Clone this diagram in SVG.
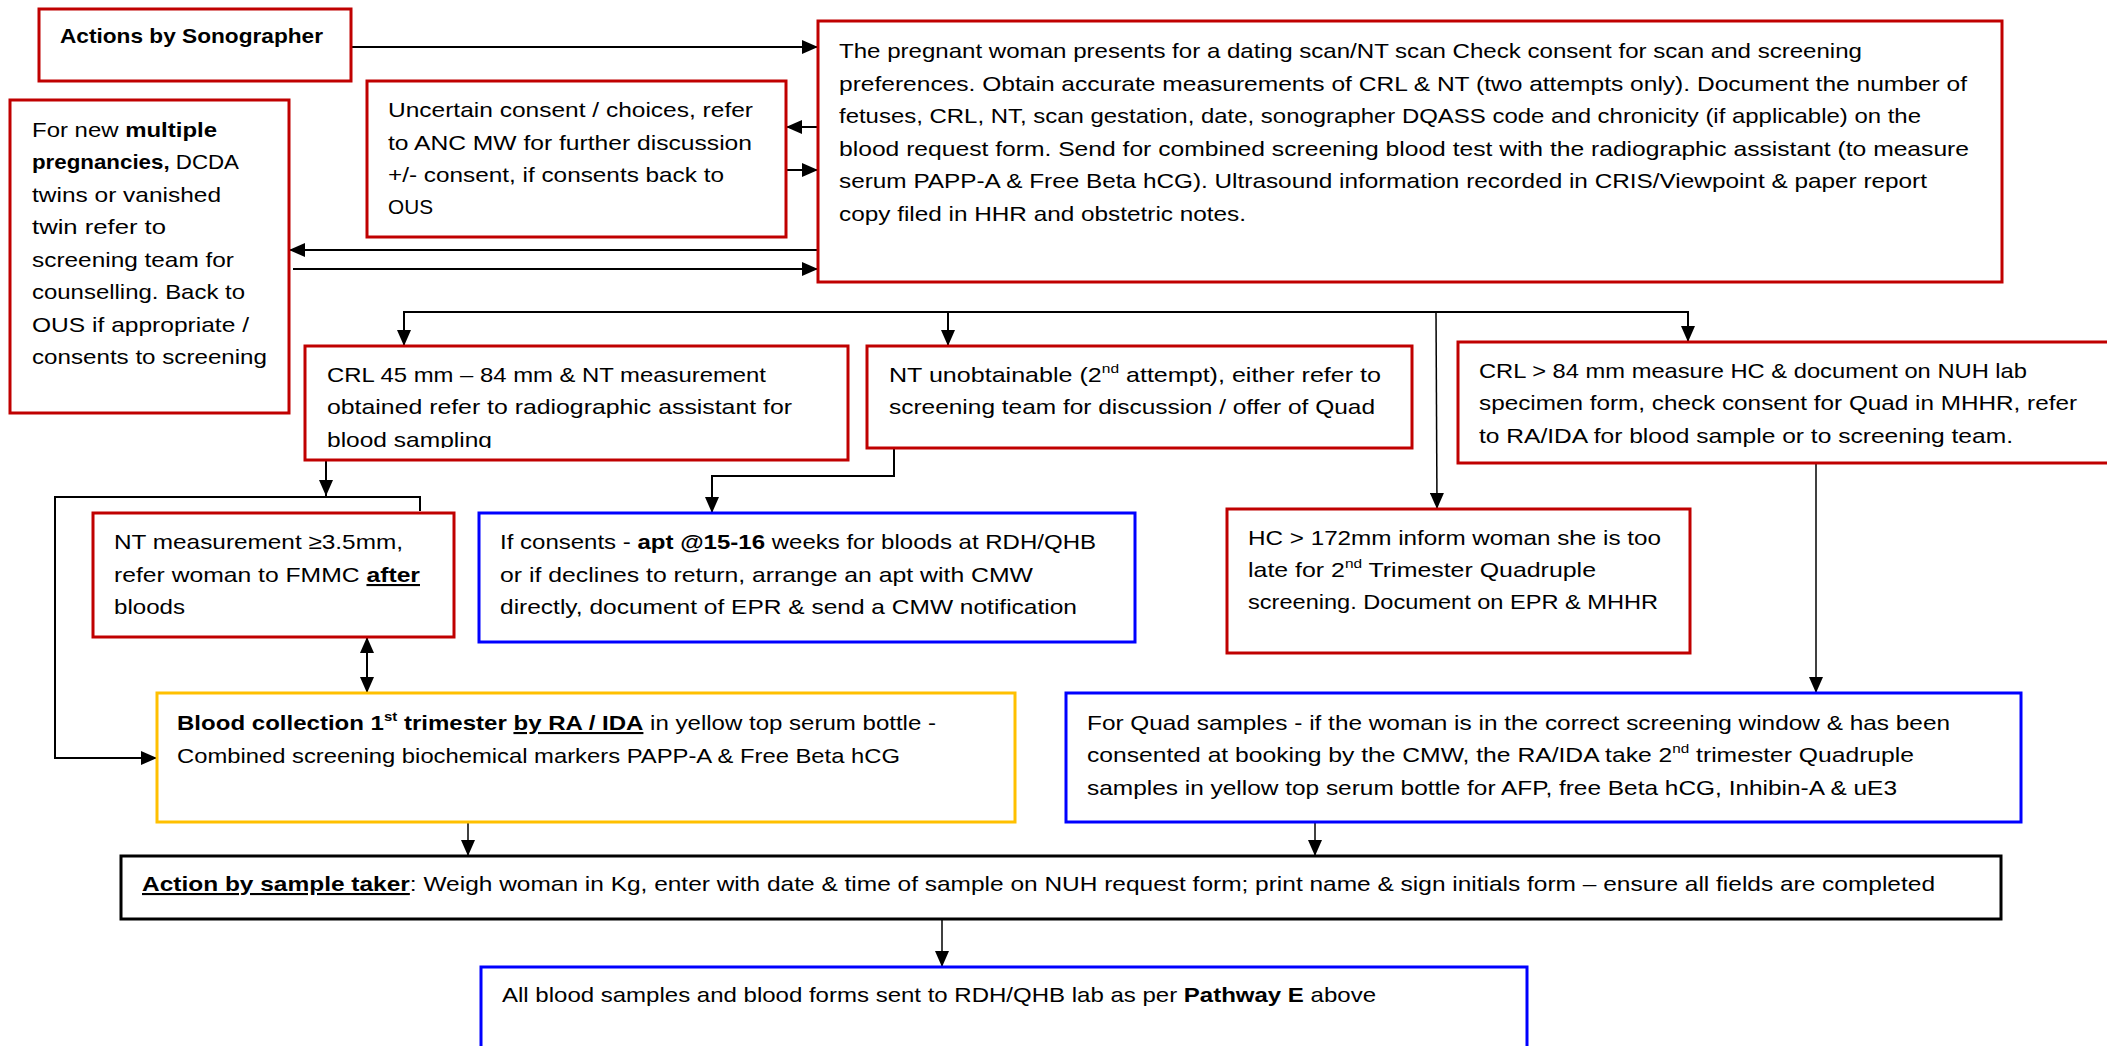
<svg xmlns="http://www.w3.org/2000/svg" width="2107" height="1046" viewBox="0 0 2107 1046">
<style>
.t{font-family:"Liberation Sans",Arial,sans-serif;font-size:21px;fill:#000}
.b{font-weight:bold}
.u{text-decoration:underline}
.sup{font-size:13px}
.red{fill:#fff;stroke:#C00000;stroke-width:3}
.blue{fill:#fff;stroke:#0000FF;stroke-width:3}
.yel{fill:#fff;stroke:#FFC000;stroke-width:3}
.blk{fill:#fff;stroke:#000;stroke-width:3}
.c{fill:none;stroke:#000;stroke-width:2}
.ct{fill:none;stroke:#000;stroke-width:1.5}
</style>
<defs>
<marker id="ah" markerUnits="userSpaceOnUse" markerWidth="16" markerHeight="14" refX="16" refY="7" orient="auto">
<path d="M0,0 L16,7 L0,14 z" fill="#000"/>
</marker>
<marker id="as" markerUnits="userSpaceOnUse" markerWidth="16" markerHeight="14" refX="0" refY="7" orient="auto">
<path d="M16,0 L0,7 L16,14 z" fill="#000"/>
</marker>
<clipPath id="crlclip"><rect x="305" y="346" width="543" height="102"/></clipPath>
</defs>

<g id="connectors">
<line class="c" x1="351" y1="47" x2="818" y2="47" marker-end="url(#ah)"/>
<line class="c" x1="818" y1="127" x2="786" y2="127" marker-end="url(#ah)"/>
<line class="c" x1="786" y1="170" x2="818" y2="170" marker-end="url(#ah)"/>
<line class="c" x1="818" y1="250" x2="289" y2="250" marker-end="url(#ah)"/>
<line class="c" x1="293" y1="269" x2="818" y2="269" marker-end="url(#ah)"/>
<line class="c" x1="403" y1="312" x2="1689" y2="312"/>
<line class="c" x1="404" y1="312" x2="404" y2="346" marker-end="url(#ah)"/>
<line class="c" x1="948" y1="312" x2="948" y2="346" marker-end="url(#ah)"/>
<line class="c" x1="1688" y1="312" x2="1688" y2="342" marker-end="url(#ah)"/>
<line class="ct" x1="1436" y1="312" x2="1437" y2="509" marker-end="url(#ah)"/>
<line class="c" x1="326" y1="460" x2="326" y2="496" marker-end="url(#ah)"/>
<polyline class="c" points="420,511 420,497 55,497 55,758 157,758" marker-end="url(#ah)"/>
<polyline class="c" points="894,448 894,476 712,476 712,513" marker-end="url(#ah)"/>
<line class="c" x1="367" y1="637" x2="367" y2="693" marker-start="url(#as)" marker-end="url(#ah)"/>
<line class="ct" x1="1816" y1="463" x2="1816" y2="693" marker-end="url(#ah)"/>
<line class="ct" x1="468" y1="822" x2="468" y2="856" marker-end="url(#ah)"/>
<line class="ct" x1="1315" y1="822" x2="1315" y2="856" marker-end="url(#ah)"/>
<line class="ct" x1="942" y1="919" x2="942" y2="967" marker-end="url(#ah)"/>
</g>

<g id="n-actions">
<rect class="red" x="39" y="9" width="312" height="72"/>
<text class="t b" x="60" y="43" textLength="263" lengthAdjust="spacingAndGlyphs">Actions by Sonographer</text>
</g>

<g id="n-main">
<rect class="red" x="818" y="21" width="1184" height="261"/>
<text class="t" x="839" y="58" textLength="1023" lengthAdjust="spacingAndGlyphs">The pregnant woman presents for a dating scan/NT scan Check consent for scan and screening</text>
<text class="t" x="839" y="91" textLength="1128" lengthAdjust="spacingAndGlyphs">preferences. Obtain accurate measurements of CRL &amp; NT (two attempts only). Document the number of</text>
<text class="t" x="839" y="123" textLength="1082" lengthAdjust="spacingAndGlyphs">fetuses, CRL, NT, scan gestation, date, sonographer DQASS code and chronicity (if applicable) on the</text>
<text class="t" x="839" y="156" textLength="1130" lengthAdjust="spacingAndGlyphs">blood request form. Send for combined screening blood test with the radiographic assistant (to measure</text>
<text class="t" x="839" y="188" textLength="1088" lengthAdjust="spacingAndGlyphs">serum PAPP-A &amp; Free Beta hCG). Ultrasound information recorded in CRIS/Viewpoint &amp; paper report</text>
<text class="t" x="839" y="221" textLength="407" lengthAdjust="spacingAndGlyphs">copy filed in HHR and obstetric notes.</text>
</g>

<g id="n-uncertain">
<rect class="red" x="367" y="81" width="419" height="156"/>
<text class="t" x="388" y="117" textLength="365" lengthAdjust="spacingAndGlyphs">Uncertain consent / choices, refer</text>
<text class="t" x="388" y="150" textLength="364" lengthAdjust="spacingAndGlyphs">to ANC MW for further discussion</text>
<text class="t" x="388" y="182" textLength="336" lengthAdjust="spacingAndGlyphs">+/- consent, if consents back to</text>
<text class="t" x="388" y="214" textLength="45" lengthAdjust="spacingAndGlyphs">OUS</text>
</g>

<g id="n-multiple">
<rect class="red" x="10" y="100" width="279" height="313"/>
<text class="t" x="32" y="137" textLength="185" lengthAdjust="spacingAndGlyphs">For new <tspan class="b">multiple</tspan></text>
<text class="t" x="32" y="169" textLength="207" lengthAdjust="spacingAndGlyphs"><tspan class="b">pregnancies,</tspan> DCDA</text>
<text class="t" x="32" y="202" textLength="189" lengthAdjust="spacingAndGlyphs">twins or vanished</text>
<text class="t" x="32" y="234" textLength="134" lengthAdjust="spacingAndGlyphs">twin refer to</text>
<text class="t" x="32" y="267" textLength="202" lengthAdjust="spacingAndGlyphs">screening team for</text>
<text class="t" x="32" y="299" textLength="213" lengthAdjust="spacingAndGlyphs">counselling. Back to</text>
<text class="t" x="32" y="332" textLength="217" lengthAdjust="spacingAndGlyphs">OUS if appropriate /</text>
<text class="t" x="32" y="364" textLength="235" lengthAdjust="spacingAndGlyphs">consents to screening</text>
</g>

<g id="n-crl">
<rect class="red" x="305" y="346" width="543" height="114"/>
<g clip-path="url(#crlclip)">
<text class="t" x="327" y="382" textLength="439" lengthAdjust="spacingAndGlyphs">CRL 45 mm – 84 mm &amp; NT measurement</text>
<text class="t" x="327" y="414" textLength="465" lengthAdjust="spacingAndGlyphs">obtained refer to radiographic assistant for</text>
<text class="t" x="327" y="447" textLength="165" lengthAdjust="spacingAndGlyphs">blood sampling</text>
</g>
</g>

<g id="n-ntunobt">
<rect class="red" x="867" y="346" width="545" height="102"/>
<text class="t" x="889" y="382" textLength="492" lengthAdjust="spacingAndGlyphs">NT unobtainable (2<tspan class="sup" dy="-9">nd</tspan><tspan dy="9"> attempt), either refer to</tspan></text>
<text class="t" x="889" y="414" textLength="486" lengthAdjust="spacingAndGlyphs">screening team for discussion / offer of Quad</text>
</g>

<g id="n-crl84">
<rect class="red" x="1458" y="342" width="700" height="121"/>
<text class="t" x="1479" y="378" textLength="548" lengthAdjust="spacingAndGlyphs">CRL &gt; 84 mm measure HC &amp; document on NUH lab</text>
<text class="t" x="1479" y="410" textLength="598" lengthAdjust="spacingAndGlyphs">specimen form, check consent for Quad in MHHR, refer</text>
<text class="t" x="1479" y="443" textLength="534" lengthAdjust="spacingAndGlyphs">to RA/IDA for blood sample or to screening team.</text>
</g>

<g id="n-hc">
<rect class="red" x="1227" y="509" width="463" height="144"/>
<text class="t" x="1248" y="545" textLength="413" lengthAdjust="spacingAndGlyphs">HC &gt; 172mm inform woman she is too</text>
<text class="t" x="1248" y="577" textLength="348" lengthAdjust="spacingAndGlyphs">late for 2<tspan class="sup" dy="-9">nd</tspan><tspan dy="9"> Trimester Quadruple</tspan></text>
<text class="t" x="1248" y="609" textLength="410" lengthAdjust="spacingAndGlyphs">screening. Document on EPR &amp; MHHR</text>
</g>

<g id="n-ntmeas">
<rect class="red" x="93" y="513" width="361" height="124"/>
<text class="t" x="114" y="549" textLength="289" lengthAdjust="spacingAndGlyphs">NT measurement ≥3.5mm,</text>
<text class="t" x="114" y="582" textLength="306" lengthAdjust="spacingAndGlyphs">refer woman to FMMC <tspan class="b u">after</tspan></text>
<text class="t" x="114" y="614" textLength="71" lengthAdjust="spacingAndGlyphs">bloods</text>
</g>

<g id="n-consents">
<rect class="blue" x="479" y="513" width="656" height="129"/>
<text class="t" x="500" y="549" textLength="596" lengthAdjust="spacingAndGlyphs">If consents - <tspan class="b">apt @15-16</tspan> weeks for bloods at RDH/QHB</text>
<text class="t" x="500" y="582" textLength="533" lengthAdjust="spacingAndGlyphs">or if declines to return, arrange an apt with CMW</text>
<text class="t" x="500" y="614" textLength="577" lengthAdjust="spacingAndGlyphs">directly, document of EPR &amp; send a CMW notification</text>
</g>

<g id="n-blood1">
<rect class="yel" x="157" y="693" width="858" height="129"/>
<text class="t" x="177" y="730" textLength="759" lengthAdjust="spacingAndGlyphs"><tspan class="b">Blood collection 1</tspan><tspan class="b sup" dy="-9">st</tspan><tspan class="b" dy="9"> trimester </tspan><tspan class="b u">by RA / IDA</tspan> in yellow top serum bottle -</text>
<text class="t" x="177" y="763" textLength="723" lengthAdjust="spacingAndGlyphs">Combined screening biochemical markers PAPP-A &amp; Free Beta hCG</text>
</g>

<g id="n-quad">
<rect class="blue" x="1066" y="693" width="955" height="129"/>
<text class="t" x="1087" y="730" textLength="863" lengthAdjust="spacingAndGlyphs">For Quad samples - if the woman is in the correct screening window &amp; has been</text>
<text class="t" x="1087" y="762" textLength="827" lengthAdjust="spacingAndGlyphs">consented at booking by the CMW, the RA/IDA take 2<tspan class="sup" dy="-9">nd</tspan><tspan dy="9"> trimester Quadruple</tspan></text>
<text class="t" x="1087" y="795" textLength="810" lengthAdjust="spacingAndGlyphs">samples in yellow top serum bottle for AFP, free Beta hCG, Inhibin-A &amp; uE3</text>
</g>

<g id="n-action">
<rect class="blk" x="121" y="856" width="1880" height="63"/>
<text class="t" x="142" y="891" textLength="1793" lengthAdjust="spacingAndGlyphs"><tspan class="b u">Action by sample taker</tspan>: Weigh woman in Kg, enter with date &amp; time of sample on NUH request form; print name &amp; sign initials form – ensure all fields are completed</text>
</g>

<g id="n-allblood">
<rect class="blue" x="481" y="967" width="1046" height="100"/>
<text class="t" x="502" y="1002" textLength="874" lengthAdjust="spacingAndGlyphs">All blood samples and blood forms sent to RDH/QHB lab as per <tspan class="b">Pathway E</tspan> above</text>
</g>
</svg>
